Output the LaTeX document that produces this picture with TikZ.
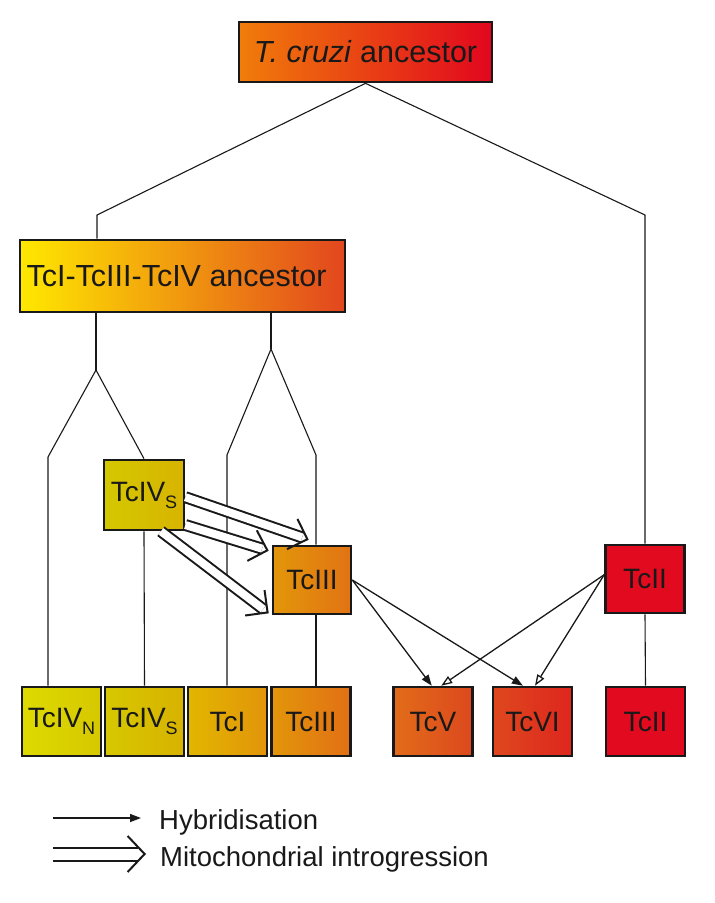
\documentclass[tikz,border=0pt]{standalone}
\usepackage{fontspec}
\setmainfont{Liberation Sans}
\usetikzlibrary{arrows.meta,calc}
\definecolor{ink}{RGB}{25,25,25}
\begin{document}
\begin{tikzpicture}[x=1pt,y=-1pt,
  box/.style={draw=ink, line width=2.6pt, minimum width=79pt, minimum height=69pt, inner sep=0pt,
    font=\fontsize{28}{30}\selectfont, text=ink},
  big/.style={box, font=\fontsize{30.5}{33}\selectfont},
  tree/.style={line width=1.1pt, draw=ink},
  hyb/.style={line width=1.3pt, draw=ink, -{Triangle[length=11pt,width=8pt]}},
  hybo/.style={line width=1.3pt, draw=ink, -{Triangle[open,length=11pt,width=8pt]}},
  mito/.style={draw=ink, double=white, double distance=8pt, line width=2pt, shorten >=7pt},
  mitol/.style={draw=ink, double=white, double distance=11pt, line width=2pt, shorten >=8pt},
  barb/.style={draw=ink, line width=2pt, -{Straight Barb[length=16pt,width=32pt]}},
  barbl/.style={draw=ink, line width=2pt, -{Straight Barb[length=17pt,width=36pt]}},
  lab/.style={anchor=base west, font=\fontsize{27.5}{30}\selectfont, text=ink, inner sep=0pt}
]
\useasboundingbox[fill=white] (0,0) rectangle (715,903);
\newcommand{\sub}[1]{\raisebox{-7pt}{\fontsize{18}{18}\selectfont #1}}

% top
\node[big, minimum width=253pt, minimum height=60pt, left color={rgb,255:red,240;green,125;blue,10}, middle color={rgb,255:red,232;green,50;blue,25}, right color={rgb,255:red,226;green,6;blue,30}] (top) at (365.5,52) {\textit{T. cruzi} ancestor};
\node[big, minimum width=325pt, minimum height=72pt, left color={rgb,255:red,255;green,232;blue,0}, middle color={rgb,255:red,246;green,170;blue,0}, right color={rgb,255:red,226;green,70;blue,30}] (anc) at (182.5,276) {\hspace{-12pt}TcI-TcIII-TcIV ancestor};

% middle boxes
\node[box, minimum width=80pt, minimum height=70pt, left color={rgb,255:red,212;green,200;blue,0}, right color={rgb,255:red,216;green,180;blue,0}] (tcivsM) at (144,495) {TcIV\sub{S}};
\node[box, minimum width=78pt, minimum height=68pt, left color={rgb,255:red,226;green,150;blue,10}, right color={rgb,255:red,226;green,115;blue,20}] (tciiiM) at (312,580) {TcIII};
\node[box, minimum width=79pt, minimum height=68pt, fill={rgb,255:red,226;green,10;blue,30}] (tciiM) at (645,579) {TcII};

% bottom boxes
\node[box, left color={rgb,255:red,222;green,218;blue,0}, right color={rgb,255:red,214;green,200;blue,0}] (tcivnB) at (61.5,721.5) {TcIV\sub{N}};
\node[box, left color={rgb,255:red,214;green,200;blue,0}, right color={rgb,255:red,216;green,178;blue,0}] (tcivsB) at (144.5,721.5) {TcIV\sub{S}};
\node[box, left color={rgb,255:red,226;green,182;blue,0}, right color={rgb,255:red,226;green,148;blue,10}] (tciB) at (227.5,721.5) {TcI};
\node[box, left color={rgb,255:red,226;green,150;blue,10}, right color={rgb,255:red,226;green,112;blue,20}] (tciiiB) at (311,721.5) {TcIII};
\node[box, left color={rgb,255:red,226;green,108;blue,25}, right color={rgb,255:red,220;green,72;blue,30}] (tcv) at (433,721.5) {TcV};
\node[box, left color={rgb,255:red,222;green,72;blue,30}, right color={rgb,255:red,222;green,38;blue,30}] (tcvi) at (532.5,721.5) {TcVI};
\node[box, fill={rgb,255:red,226;green,10;blue,30}] (tciiB) at (645.5,721.5) {TcII};

% tree
\coordinate (r1) at (97,215);
\coordinate (r2) at (645,215);
\draw[tree] (anc.north -| r1) -- (r1) -- (top.south) -- (r2) -- (tciiM.north);
\coordinate (a1) at (96,370);
\coordinate (a2) at (271,349);
\draw[tree] (anc.south -| a1) -- (a1);
\draw[tree] (anc.south -| a2) -- (a2);
\coordinate (b1) at (48,457);
\draw[tree] (tcivnB.north -| b1) -- (b1) -- (a1) -- (tcivsM.north);
\coordinate (c1) at (227,455);
\coordinate (c2) at (316,455);
\draw[tree] (tciB.north -| c1) -- (c1) -- (a2) -- (c2) -- (tciiiM.north -| c2);
\draw[tree] (tciiiM.south -| c2) -- (tciiiB.north -| c2);
\draw[tree] (tcivsM.south) -- (tcivsB.north);
\draw[tree] (tciiM.south) -- (tciiB.north);

% mitochondrial introgression
\coordinate (sA) at (tcivsM.-3);
\coordinate (eA) at ($(tciiiM.north west)+(37,-5)$);
\coordinate (sB) at (tcivsM.-36);
\coordinate (eB) at ($(tciiiM.north west)+(-3,6)$);
\coordinate (sC) at (tcivsM.-65);
\coordinate (eC) at ($(tciiiM.south west)+(-3,-2)$);
\foreach \s/\e in {sA/eA, sB/eB, sC/eC}{
  \draw[mito] (\s) -- (\e);
  \draw[barb] ($(\e)!1pt!(\s)$) -- (\e);
}

% hybridisation
\draw[hyb] (tciiiM.east) -- (tcv.92);
\draw[hyb] (tciiiM.east) -- (tcvi.105);
\draw[hybo] (tciiM.174) -- (tcv.77);
\draw[hybo] (tciiM.174) -- (tcvi.86);

% legend
\coordinate (h1) at (53,818);
\coordinate (h2) at (141,818);
\draw[hyb] (h1) -- (h2);
\node[lab] (hl) at (159,829) {Hybridisation};
\coordinate (m1) at (53,854);
\coordinate (m2) at (146,854);
\draw[mitol] (m1) -- (m2);
\draw[barbl] ($(m2)!1pt!(m1)$) -- (m2);
\node[lab] (ml) at (160,866) {Mitochondrial introgression};
\end{tikzpicture}
\end{document}
